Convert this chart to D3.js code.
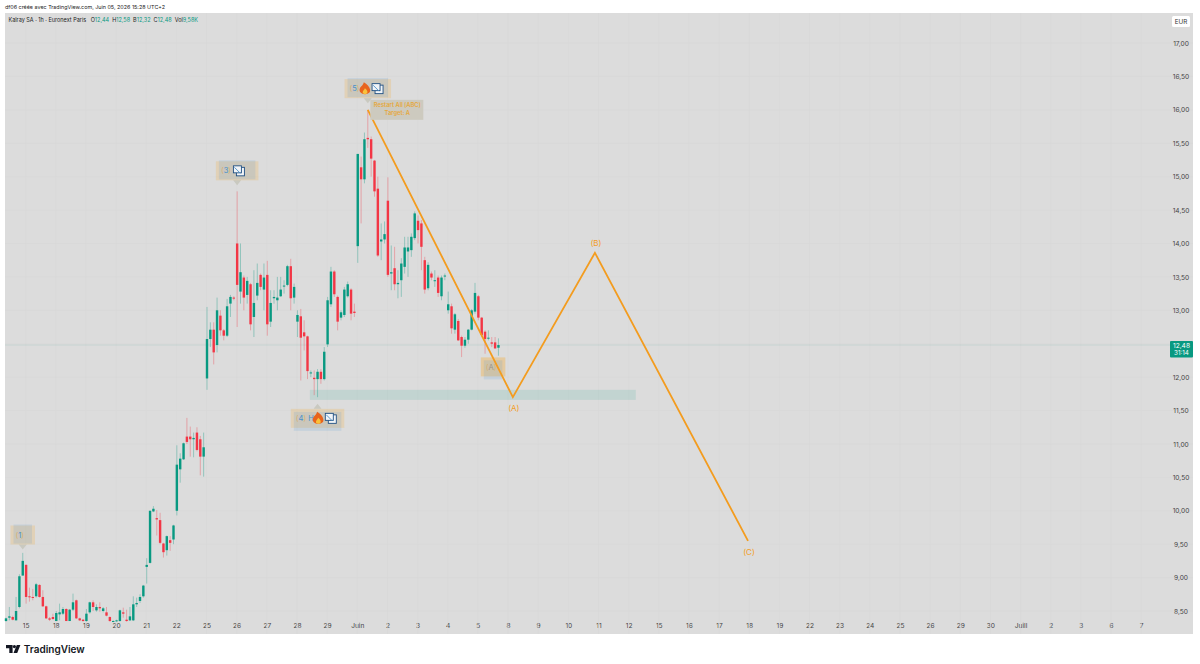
<!DOCTYPE html>
<html>
<head>
<meta charset="utf-8">
<script src="https://cdnjs.cloudflare.com/ajax/libs/d3/7.8.5/d3.min.js"></script>
<style>
html, body { margin: 0; padding: 0; background: #fff; }
text { font-family: "Inter", "Roboto", sans-serif; }
</style>
</head>
<body>
<div id="chart"></div>
<script>
var opens = [
    8.35,8.40,8.41,8.36,8.56,9.03,9.19,8.72,8.71,8.72,
    8.89,8.71,8.57,8.39,8.41,8.35,8.45,8.46,8.53,8.35,
    8.52,8.66,8.39,8.37,8.35,8.48,8.63,8.51,8.56,8.50,
    8.48,8.41,8.35,8.35,8.35,8.48,8.37,8.36,8.36,8.60,
    8.65,8.72,9.16,9.22,9.99,9.89,9.86,9.51,9.41,9.56,
    9.57,10.00,10.62,10.77,11.11,11.11,11.07,11.17,11.07,10.81,
    11.98,12.57,12.71,12.48,12.92,12.70,12.62,13.10,13.19,14.00,
    13.28,13.49,13.23,13.39,12.90,13.22,13.53,13.31,13.53,12.83,
    13.18,13.15,13.21,13.36,13.38,13.66,13.19,12.83,12.91,12.67,
    12.61,12.07,11.99,11.97,12.08,11.97,12.49,13.09,13.58,13.20,
    12.89,12.93,13.21,13.31,12.98,13.96,15.14,14.96,15.58,15.56,
    15.24,14.82,14.03,14.06,14.64,13.55,13.63,13.39,13.45,13.65,
    13.88,13.90,14.08,14.34,14.30,13.75,13.33,13.55,13.44,13.49,
    13.21,13.51,13.00,13.06,12.71,12.84,12.60,12.47,12.56,12.71,
    12.98,13.21,12.89,12.68,12.58,12.52,12.52,12.44
];
var closes = [
    8.39,8.42,8.37,8.50,9.02,9.25,8.71,8.71,8.70,8.90,
    8.71,8.57,8.39,8.37,8.38,8.47,8.48,8.53,8.35,8.52,
    8.63,8.39,8.36,8.35,8.46,8.63,8.56,8.56,8.54,8.54,
    8.43,8.35,8.35,8.36,8.51,8.46,8.35,8.42,8.60,8.62,
    8.71,8.88,9.19,10.00,10.03,9.87,9.52,9.38,9.62,9.52,
    9.78,10.69,10.78,11.01,11.03,11.07,11.09,10.91,10.81,10.95,
    12.57,12.71,12.37,13.00,12.70,12.62,13.06,13.20,13.18,13.38,
    13.57,13.19,13.44,12.79,13.11,13.41,13.35,13.49,12.79,13.11,
    13.20,13.19,13.31,13.37,13.66,13.18,13.35,12.93,12.59,12.61,
    12.09,12.07,11.97,12.08,11.97,12.38,13.15,13.58,13.24,12.83,
    12.97,13.31,13.39,12.95,12.96,15.34,14.96,15.56,15.56,15.27,
    14.78,13.82,14.06,14.14,13.53,13.57,13.39,13.41,13.70,13.94,
    13.94,14.10,14.45,14.20,13.95,13.31,13.68,13.49,13.45,13.26,
    13.49,13.52,13.09,12.73,12.94,12.55,12.47,12.56,12.71,13.00,
    13.26,12.89,12.63,12.57,12.59,12.50,12.43,12.48
];
var highs = [
    8.40,8.56,8.43,8.71,9.05,9.37,9.20,8.85,8.83,8.92,
    8.90,8.81,8.58,8.41,8.46,8.50,8.61,8.56,8.54,8.53,
    8.76,8.67,8.40,8.38,8.53,8.64,8.66,8.60,8.63,8.56,
    8.56,8.42,8.36,8.37,8.52,8.55,8.52,8.56,8.72,8.70,
    8.75,8.89,9.29,10.00,10.07,10.01,9.97,9.52,9.63,9.62,
    9.79,10.98,10.86,11.02,11.39,11.26,11.17,11.25,11.12,11.17,
    13.05,12.82,12.82,13.19,13.00,12.72,13.17,13.23,13.21,14.78,
    14.00,13.52,13.50,13.41,13.60,13.70,13.55,13.70,13.74,13.30,
    13.30,13.50,13.50,13.45,13.68,13.77,13.40,13.00,13.02,12.85,
    12.62,12.10,12.10,12.12,12.12,12.45,13.20,13.65,13.60,13.22,
    13.00,13.35,13.43,13.33,13.10,15.34,15.30,15.66,16.00,15.60,
    15.25,15.00,14.30,14.33,14.99,13.97,13.95,13.60,13.78,14.10,
    14.10,14.15,14.48,14.42,14.35,13.80,13.72,13.58,13.60,13.52,
    13.52,13.55,13.28,13.10,12.96,12.87,12.62,12.60,12.72,13.02,
    13.41,13.23,12.90,12.70,12.70,12.60,12.60,12.58
];
var lows = [
    8.34,8.36,8.36,8.36,8.54,9.03,8.61,8.64,8.66,8.70,
    8.70,8.56,8.38,8.35,8.37,8.35,8.36,8.44,8.35,8.35,
    8.50,8.38,8.35,8.34,8.34,8.46,8.50,8.49,8.49,8.48,
    8.42,8.34,8.34,8.34,8.34,8.40,8.34,8.35,8.35,8.56,
    8.62,8.70,8.91,9.21,9.98,9.63,9.50,9.30,9.33,9.40,
    9.50,9.93,10.42,10.76,11.00,10.81,10.80,10.89,10.53,10.51,
    11.81,12.45,12.19,12.37,12.62,12.55,12.60,12.90,13.15,12.75,
    13.10,13.00,13.10,12.70,12.60,13.15,13.30,13.00,12.62,12.75,
    13.10,13.00,13.20,13.25,13.36,13.00,13.10,12.60,11.95,12.40,
    11.97,12.00,11.73,11.70,11.90,11.95,12.45,13.05,13.20,12.70,
    12.85,12.90,13.19,12.85,12.90,13.71,14.30,14.90,15.43,15.00,
    14.70,13.80,13.75,14.00,13.50,13.30,13.30,13.18,13.20,13.55,
    13.50,13.80,14.05,14.00,13.60,13.25,13.30,13.45,13.35,13.20,
    13.15,13.45,12.95,12.65,12.65,12.54,12.30,12.44,12.50,12.70,
    12.95,12.85,12.60,12.35,12.55,12.45,12.42,12.32
];

var dayLabels = ["15","18","19","20","21","22","25","26","27","28","29","Juin","2","3","4","5",
    "8","9","10","11","12","15","16","17","18","19","22","23","24","25","26","29","30","Juill","2","3","6","7"];
var priceTicks = [8.5,9,9.5,10,10.5,11,11.5,12,12.5,13,13.5,14,14.5,15,15.5,16,16.5,17];
var lastPrice = 12.48;

// elliott projection
var waveIdx = [108, 151.3, 175.8, 221.5];
var wavePrice = [16.0, 11.70, 13.86, 9.55];
var waveText = ["", "(A)", "(B)", "(C)"];

// support zone
var zoneIdx = [90.7, 188];
var zonePrice = [11.81, 11.66];

// wave badges
var badgeText = ["(1)", "(3) H", "(5)", "(4) H", "(A)"];
var badgeIdx = [5, 69, 108, 93, 145.4];
var badgePrice = [9.42, 14.87, 16.1, 11.6, 12.37];
var badgeFlame = [0, 0, 1, 1, 0];
var badgeChart = [0, 1, 1, 1, 0];
var badgeBelow = [0, 0, 0, 1, 1];

var legendParts = [["O", "12,44"], ["H", "12,58"], ["B", "12,32"], ["C", "12,48"], ["Vol", "9,58K"]];

function init() {
    var w = 1200;
    var h = 664;
    var plot = { left: 5, right: 1193, top: 13, bottom: 634 };
    var green = "#089981";
    var red = "#f23645";
    var orange = "#f39c1f";

    var x = d3.scaleLinear().domain([-0.3, 354.33]).range([plot.left, plot.right]);
    var y = d3.scaleLinear().domain([8.5, 17]).range([611, 43]);

    var svg = d3.select("#chart").append("svg")
        .attr("width", w)
        .attr("height", h)
        .style("display", "block");

    svg.append("rect")
        .attr("x", plot.left).attr("y", plot.top)
        .attr("width", plot.right - plot.left).attr("height", plot.bottom - plot.top)
        .attr("fill", "#dcdcdc");

    // axes and grid
    var tickIdx = dayLabels.map(function(d, i) { return 6 + 9 * i; });
    var xAxis = d3.axisBottom(x)
        .tickValues(tickIdx)
        .tickSize(0)
        .tickPadding(0)
        .tickFormat(function(d, i) { return dayLabels[i]; });
    var gx = svg.append("g").attr("transform", "translate(-0.5," + 622 + ")").call(xAxis);
    gx.select(".domain").remove();
    gx.selectAll("text").attr("font-size", 6.6).attr("fill", "#444").attr("dy", "0.35em").attr("y", 4);

    svg.append("g").selectAll("line")
        .data(tickIdx).enter().append("line")
        .attr("x1", function(d) { return x(d) - 0.5; })
        .attr("x2", function(d) { return x(d) - 0.5; })
        .attr("y1", plot.top).attr("y2", plot.bottom)
        .attr("stroke", "#d6d6d6").attr("stroke-width", 0.6);

    svg.append("g").selectAll("line")
        .data(priceTicks).enter().append("line")
        .attr("x1", plot.left).attr("x2", plot.right)
        .attr("y1", function(d) { return y(d); })
        .attr("y2", function(d) { return y(d); })
        .attr("stroke", "#d6d6d6").attr("stroke-width", 0.6);

    var yAxis = d3.axisRight(y)
        .tickValues(priceTicks)
        .tickSize(0)
        .tickPadding(0)
        .tickFormat(function(d) { return d.toFixed(2).replace(".", ","); });
    var gy = svg.append("g").attr("transform", "translate(1181,0)").call(yAxis);
    gy.select(".domain").remove();
    gy.selectAll("text").attr("font-size", 6.6).attr("fill", "#444").attr("text-anchor", "middle");

    // zone
    svg.append("rect")
        .attr("x", x(zoneIdx[0])).attr("y", y(zonePrice[0]))
        .attr("width", x(zoneIdx[1]) - x(zoneIdx[0]))
        .attr("height", y(zonePrice[1]) - y(zonePrice[0]))
        .attr("fill", "#089981").attr("fill-opacity", 0.12);

    // last price line
    svg.append("line")
        .attr("x1", plot.left).attr("x2", 1170)
        .attr("y1", y(lastPrice)).attr("y2", y(lastPrice))
        .attr("stroke", green).attr("stroke-opacity", 0.16).attr("stroke-width", 0.6);

    // badges under the candles
    badgeText.forEach(function(t, i) { drawBadge(svg, x(badgeIdx[i]), y(badgePrice[i]), t, badgeFlame[i], badgeChart[i], badgeBelow[i], i); });

    // candles
    var idx = d3.range(opens.length);
    var candles = svg.append("g");
    candles.selectAll("line")
        .data(idx).enter().append("line")
        .attr("x1", function(i) { return x(i); })
        .attr("x2", function(i) { return x(i); })
        .attr("y1", function(i) { return y(highs[i]); })
        .attr("y2", function(i) { return y(lows[i]); })
        .attr("stroke", function(i) { return closes[i] >= opens[i] ? green : red; })
        .attr("stroke-opacity", 0.5)
        .attr("stroke-width", 0.7);
    candles.selectAll("rect")
        .data(idx).enter().append("rect")
        .attr("x", function(i) { return x(i) - 1.2; })
        .attr("width", 2.4)
        .attr("y", function(i) { return y(Math.max(opens[i], closes[i])); })
        .attr("height", function(i) { return Math.max(1, Math.abs(y(opens[i]) - y(closes[i]))); })
        .attr("fill", function(i) { return closes[i] >= opens[i] ? green : red; });

    // wave line
    var line = d3.line()
        .x(function(d) { return x(d); })
        .y(function(d, i) { return y(wavePrice[i]); });
    svg.append("path")
        .attr("d", line(waveIdx))
        .attr("fill", "none")
        .attr("stroke", orange)
        .attr("stroke-width", 1.8)
        .attr("stroke-linejoin", "miter");

    waveText.forEach(function(t, i) {
        if (!t) return;
        svg.append("text")
            .attr("x", x(waveIdx[i]) + 1)
            .attr("y", y(wavePrice[i]) + (i === 2 ? -10 : 11))
            .attr("dy", "0.35em")
            .attr("text-anchor", "middle")
            .attr("font-size", 8)
            .attr("fill", orange)
            .text(t);
    });

    // restart tooltip
    var tx = x(waveIdx[0]) + 2.5;
    var ty = y(wavePrice[0]) - 10;
    svg.append("rect").attr("x", tx).attr("y", ty).attr("width", 53).attr("height", 20).attr("fill", "#cdcabf");
    svg.append("text").attr("x", tx + 27).attr("y", ty + 7).attr("text-anchor", "middle")
        .attr("font-size", 5.8).attr("font-weight", 600).attr("fill", "#e6a83c").text("Restart All [ABC]");
    svg.append("text").attr("x", tx + 27).attr("y", ty + 15).attr("text-anchor", "middle")
        .attr("font-size", 5.8).attr("font-weight", 600).attr("fill", "#e6a83c").text("Target: A");

    // header
    svg.append("text").attr("x", 5).attr("y", 9).attr("font-size", 5.4).attr("fill", "#222")
        .text("df06 créée avec TradingView.com, Juin 05, 2026 15:28 UTC+2");

    var legend = svg.append("text").attr("x", 8.5).attr("y", 22).attr("font-size", 5.5).attr("fill", "#222");
    legend.append("tspan").text("Kalray SA · 1h · Euronext Paris");
    legendParts.forEach(function(p, i) {
        legend.append("tspan").attr("dx", i === 0 ? 4.5 : 3).attr("fill", "#222").text(p[0]);
        legend.append("tspan").attr("fill", green).text(p[1]);
    });

    // price tags
    svg.append("rect").attr("x", 1172).attr("y", 16).attr("width", 18).attr("height", 11).attr("rx", 1.5).attr("fill", "#fff");
    svg.append("text").attr("x", 1181).attr("y", 21.5).attr("dy", "0.35em").attr("text-anchor", "middle")
        .attr("font-size", 6.3).attr("fill", "#333").text("EUR");
    svg.append("rect").attr("x", 1170).attr("y", 341).attr("width", 23).attr("height", 16.5).attr("rx", 1).attr("fill", green);
    svg.append("text").attr("x", 1181.5).attr("y", 345.5).attr("dy", "0.35em").attr("text-anchor", "middle")
        .attr("font-size", 6.6).attr("fill", "#fff").text(lastPrice.toFixed(2).replace(".", ","));
    svg.append("text").attr("x", 1181.5).attr("y", 352.8).attr("dy", "0.35em").attr("text-anchor", "middle")
        .attr("font-size", 6.3).attr("fill", "#fff").text("31:14");

    // logo
    var logo = svg.append("g").attr("transform", "translate(6,645)").attr("fill", "#131722");
    logo.append("path").attr("d", "M0 0H6.6V8H3.3V3.2H0Z");
    logo.append("circle").attr("cx", 8.4).attr("cy", 1.6).attr("r", 1.6);
    logo.append("path").attr("d", "M10.8 0H14.4L11.2 8H7.5Z");
    svg.append("text").attr("x", 23.8).attr("y", 652.8).attr("font-size", 10).attr("font-weight", 600)
        .attr("fill", "#131722").text("TradingView");
}

// one wave badge, tip at (px, py)
function drawBadge(svg, px, py, label, flame, chart, below, i) {
    var iconCount = flame + chart;
    var bw = 14 + 3.5 * label.length + 11 * iconCount;
    var bh = 19;
    var tip = 5;
    var g = svg.append("g");
    var top = below ? py + tip : py - tip - bh;
    var left = px - bw / 2;

    if (i !== 4) {
        g.append("path")
            .attr("d", below
                ? "M" + (px - 4) + " " + top + "L" + px + " " + py + "L" + (px + 4) + " " + top + "Z"
                : "M" + (px - 4) + " " + (top + bh) + "L" + px + " " + py + "L" + (px + 4) + " " + (top + bh) + "Z")
            .attr("fill", "#c9c9c0");
    }
    g.append("rect").attr("x", left).attr("y", top).attr("width", bw).attr("height", bh)
        .attr("fill", "#f5a623").attr("fill-opacity", i === 4 ? 0.32 : 0.2);
    g.append("rect").attr("x", left + 3).attr("y", top + (below ? 3 : -1)).attr("width", bw - 6).attr("height", bh)
        .attr("fill", "#5b9bd5").attr("fill-opacity", 0.17);

    var label1 = g.append("text")
        .attr("x", left + 5).attr("y", top + bh / 2).attr("dy", "0.35em")
        .attr("font-size", 7.5);
    label.split("").forEach(function(ch) {
        label1.append("tspan")
            .attr("fill", ch === "(" || ch === ")" ? "#d9b070" : (i === 4 ? "#9a9488" : "#4a90c8"))
            .text(ch);
    });

    var ix = left + 5 + 3.5 * label.length - (flame ? 0 : 6);
    if (flame) {
        var f = g.append("g").attr("transform", "translate(" + (ix + 5) + "," + (top + bh / 2 + 5.5) + ") scale(1.2)");
        f.append("path").attr("d", "M0 0C-4 0 -5.5 -3 -4 -5.5C-3.2 -7 -1.5 -7.5 -1 -10C1.5 -8.5 3.8 -6.5 4.2 -3.8C4.6 -1.5 3 0 0 0Z").attr("fill", "#e8641c");
        f.append("path").attr("d", "M0 0C-1.8 0 -2.4 -1.3 -1.7 -2.6C-1.2 -3.4 -0.5 -3.8 -0.2 -5C1 -4.2 2 -3 2 -1.8C2 -0.6 1.2 0 0 0Z").attr("fill", "#f9c23c");
        ix += 11;
    }
    if (chart) {
        var c = g.append("g").attr("transform", "translate(" + (ix + 1) + "," + (top + bh / 2 - 5) + ")")
            .attr("fill", "#f1f4f7").attr("stroke", "#1f4f82").attr("stroke-width", 0.9);
        c.append("rect").attr("x", 3).attr("y", 1.5).attr("width", 8).attr("height", 8.5);
        c.append("rect").attr("x", 0).attr("y", 0).attr("width", 8).attr("height", 7);
        c.append("path").attr("d", "M1 1.5L7 7.5").attr("stroke", "#4a90c8");
    }
}

window.onload = init;
</script>
</body>
</html>
